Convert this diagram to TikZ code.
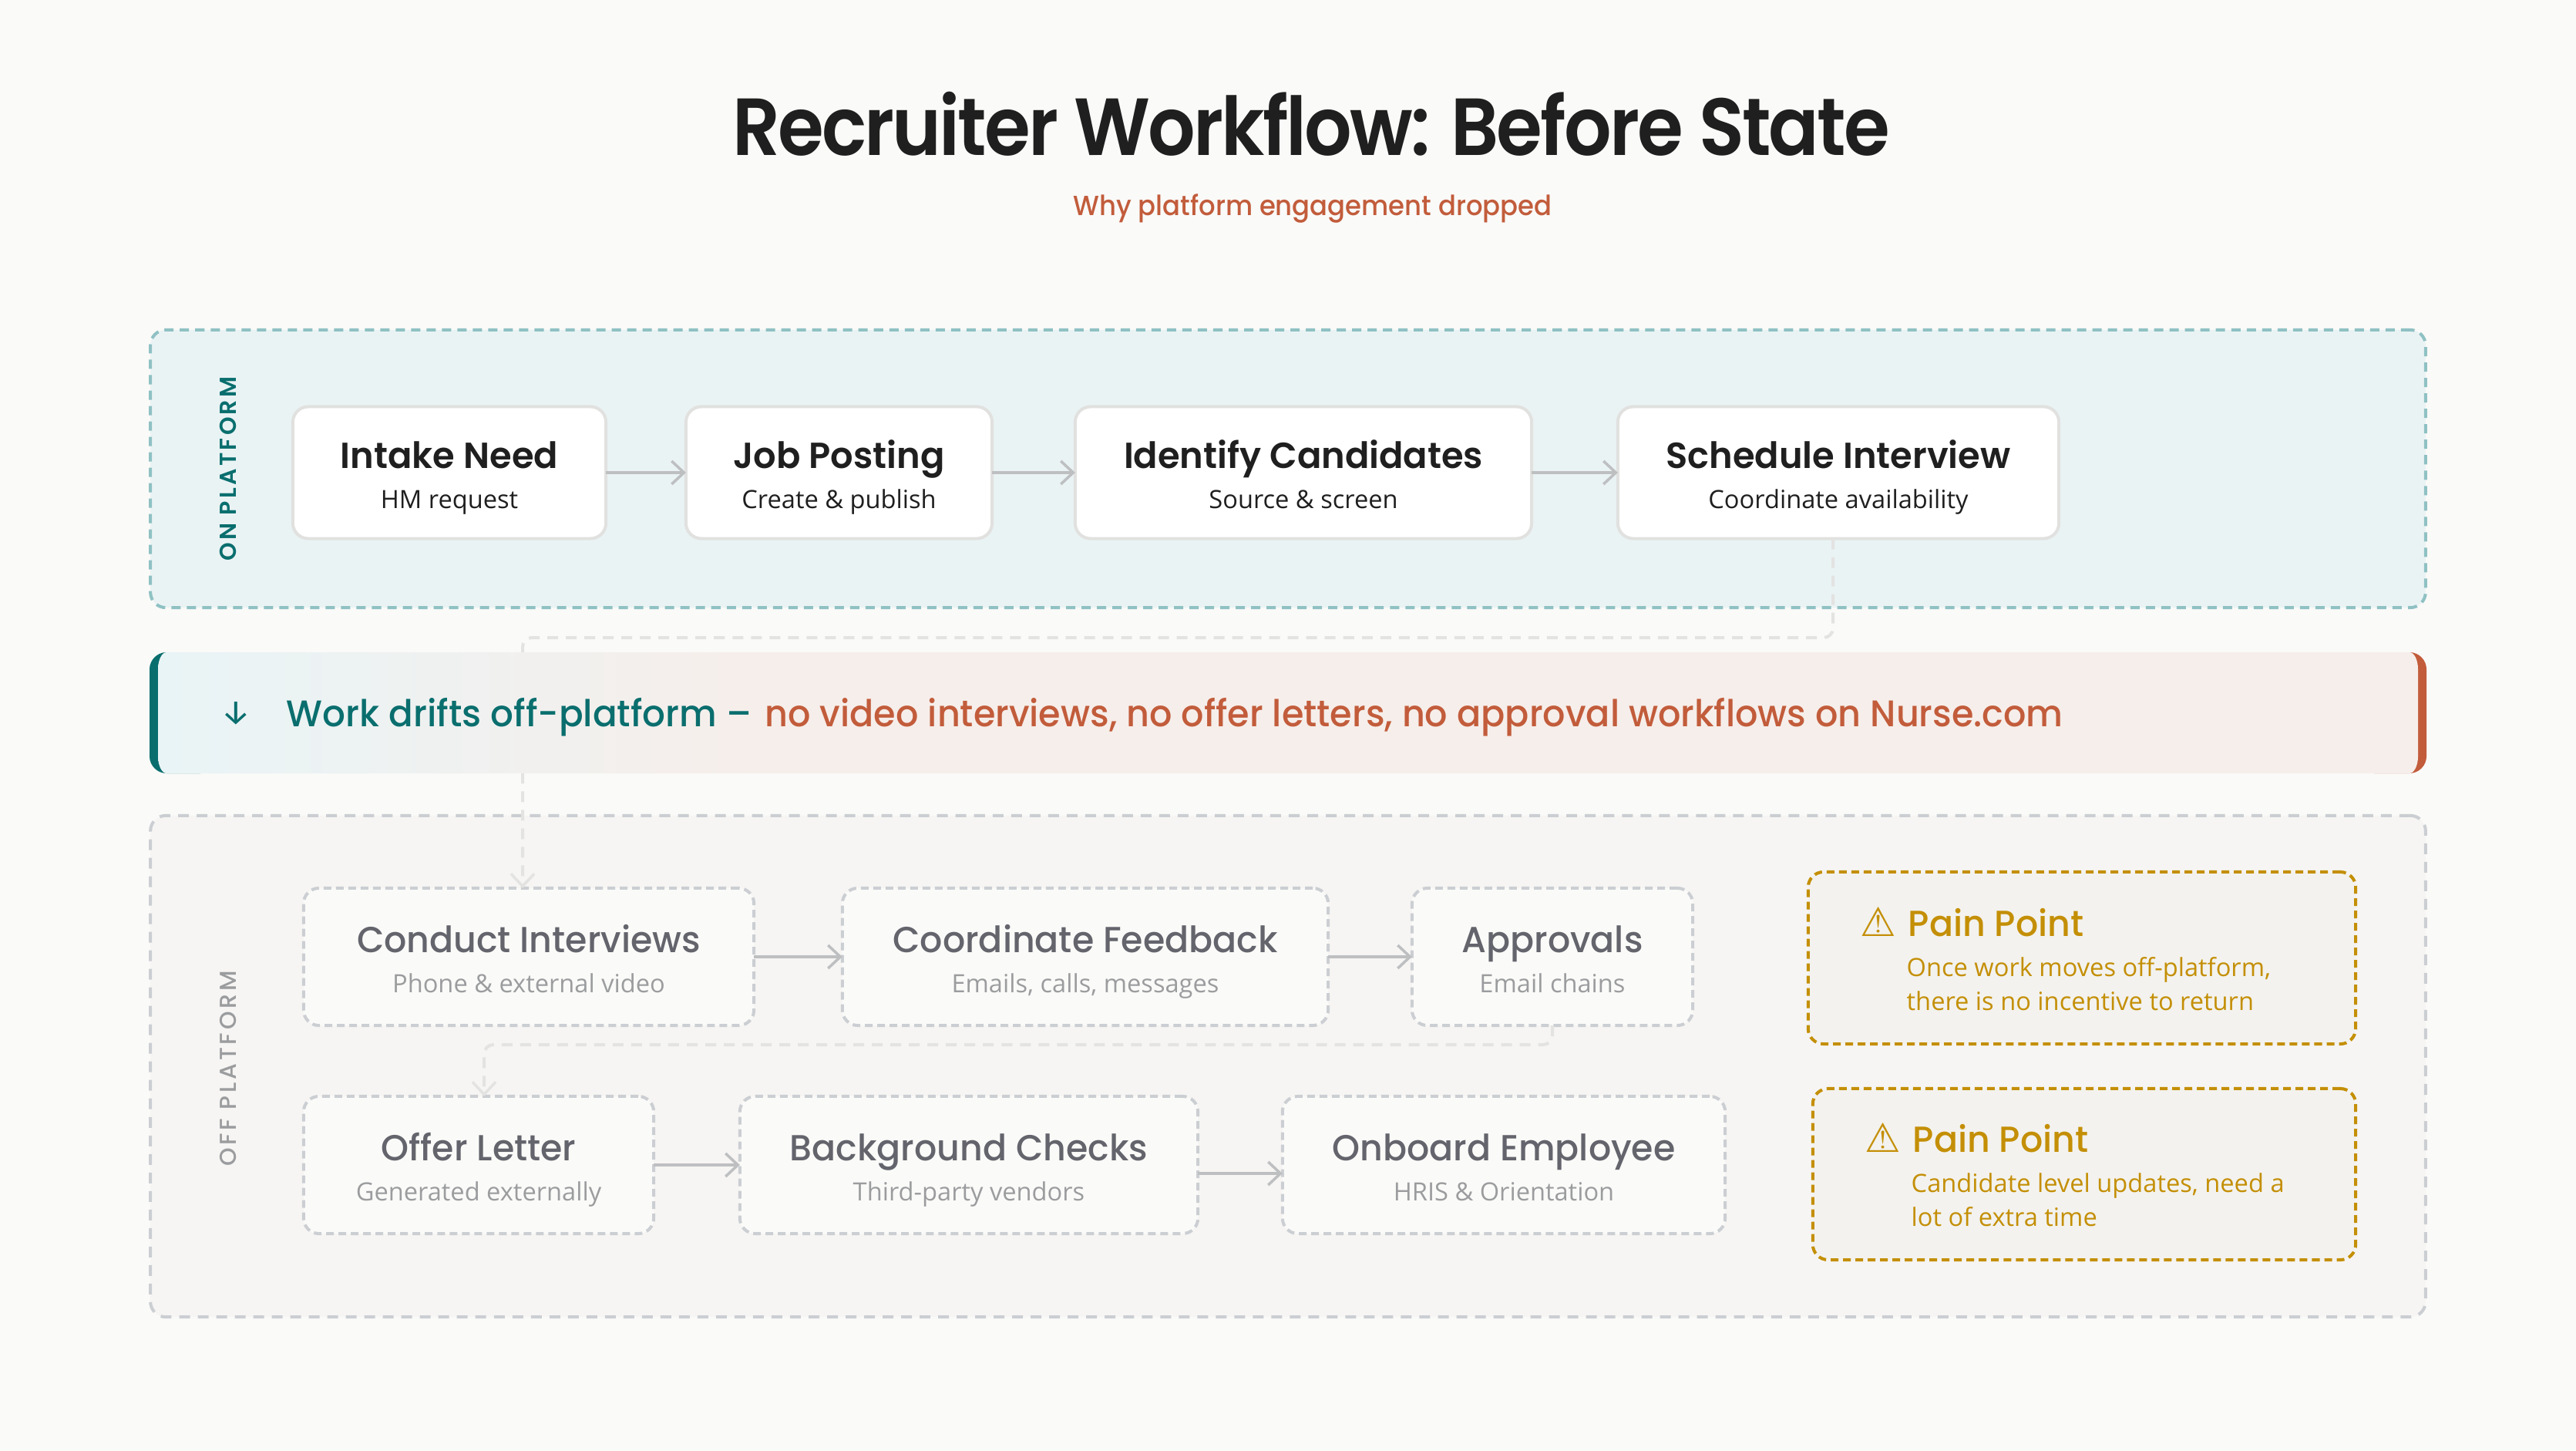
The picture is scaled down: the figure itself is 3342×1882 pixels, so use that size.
\documentclass[tikz,border=0pt]{standalone}
\usepackage{fontspec}
\usetikzlibrary{calc,arrows.meta}
\setmainfont{Open Sans}
\newfontfamily\titlefont[FakeStretch=0.92,LetterSpace=-2.7]{Poppins SemiBold}
\newfontfamily\hdfont[FakeStretch=0.985]{Poppins SemiBold}
\newfontfamily\medfont[FakeStretch=0.975]{Poppins Medium}
\newfontfamily\subfont[FakeStretch=0.94]{Poppins Medium}
\newfontfamily\banfont[FakeStretch=0.96]{Poppins Medium}
\newfontfamily\capfont[LetterSpace=11]{Poppins SemiBold}
\newfontfamily\capofffont[LetterSpace=12.5]{Poppins Medium}
\newfontfamily\symfont{DejaVu Sans Bold}
\newfontfamily\arrowfont{Fira Sans}
\newcommand\px[1]{\fontsize{\fpeval{#1*0.28453}}{\fpeval{#1*0.28453*1.2}}\selectfont}
\definecolor{bgc}{HTML}{FAFAF8}
\definecolor{ink}{HTML}{1F1F1F}
\definecolor{tealc}{HTML}{0A6E6E}
\definecolor{coral}{HTML}{C25C3B}
\definecolor{onfill}{HTML}{EAF3F4}
\definecolor{ondash}{HTML}{8FC1C3}
\definecolor{offfill}{HTML}{F6F5F3}
\definecolor{offdash}{HTML}{CBCED2}
\definecolor{offhead}{HTML}{63646C}
\definecolor{offsub}{HTML}{9B9C9E}
\definecolor{onbord}{HTML}{E1E1E0}
\definecolor{arrowc}{HTML}{BDBFC1}
\definecolor{driftc}{HTML}{E3E3E1}
\definecolor{gold}{HTML}{C48F06}
\definecolor{painfill}{HTML}{F3F2EE}
\definecolor{banL}{HTML}{E9F4F6}
\definecolor{banR}{HTML}{F6EEEA}
\pgfdeclarehorizontalshading{bannershade}{100bp}{color(0bp)=(banL); color(25bp)=(banL); color(38.5bp)=(banR); color(100bp)=(banR)}
\tikzset{
  panelon/.style={draw=ondash,fill=onfill,line width=0.04cm,dash pattern=on 0.12cm off 0.08cm,rounded corners=0.2cm,inner sep=0,outer sep=0},
  paneloff/.style={draw=offdash,fill=offfill,line width=0.04cm,dash pattern=on 0.14cm off 0.10cm,rounded corners=0.2cm,inner sep=0,outer sep=0},
  boxon/.style={draw=onbord,fill=white,line width=0.04cm,rounded corners=0.2cm,inner sep=0,outer sep=0},
  boxoff/.style={draw=offdash,fill=bgc,line width=0.04cm,dash pattern=on 0.10cm off 0.06cm,rounded corners=0.2cm,inner sep=0,outer sep=0},
  boxpain/.style={draw=gold,fill=painfill,line width=0.04cm,dash pattern=on 0.10cm off 0.06cm,rounded corners=0.2cm,inner sep=0,outer sep=0},
  flow/.style={draw=arrowc,line width=0.04cm,-{Straight Barb[length=0.16cm,width=0.3cm,line width=0.035cm]}},
  drift/.style={draw=driftc,line width=0.04cm,dash pattern=on 0.14cm off 0.10cm,rounded corners=0.12cm,-{Straight Barb[length=0.16cm,width=0.3cm,line width=0.035cm]}},
  hon/.style={anchor=base,inner sep=0,text=ink,font=\hdfont\px{47}},
  son/.style={anchor=base,inner sep=0,text=ink,font=\px{32.6}},
  hoff/.style={anchor=base,inner sep=0,text=offhead,font=\medfont\px{47}},
  soff/.style={anchor=base,inner sep=0,text=offsub,font=\px{32.6}},
  painh/.style={anchor=base west,inner sep=0,text=gold,font=\medfont\px{47}},
  pains/.style={anchor=base west,inner sep=0,text=gold,font=\px{32.6}},
  warn/.style={anchor=base west,inner sep=0,text=gold,font=\symfont\px{52}},
}
\begin{document}
\begin{tikzpicture}[x=0.01cm,y=-0.01cm]
\fill[bgc] (0,0) rectangle (3342,1882);
\useasboundingbox (0,0) rectangle (3342,1882);
% title
\node[anchor=base,inner sep=0,text=ink,font=\titlefont\px{105}] (title) at (1701,202) {Recruiter Workflow: Before State};
\node[anchor=base,inner sep=0,text=coral,font=\subfont\px{36}] (subtitle) at (1703,280) {Why platform engagement dropped};
% panels
\node[panelon,minimum width=29.50cm,minimum height=3.60cm] (onpanel) at (1671,608) {};
\node[paneloff,minimum width=29.50cm,minimum height=6.50cm] (offpanel) at (1671,1383) {};
\node[rotate=90,anchor=center,inner sep=0,text=tealc,font=\capfont\px{30}] (onlabel) at (296,608) {ON PLATFORM};
\node[rotate=90,anchor=center,inner sep=0,text=offsub,font=\capofffont\px{30}] (offlabel) at (296,1386) {OFF PLATFORM};
% on-platform steps
\node[boxon,minimum width=4.06cm,minimum height=1.71cm] (intake) at (583,613) {};
\node[hon] (intakeh) at (583,607) {Intake Need};
\node[son] (intakes) at (583,659) {HM request};
\node[boxon,minimum width=3.97cm,minimum height=1.71cm] (job) at (1088.5,613) {};
\node[hon] (jobh) at (1088.5,607) {Job Posting};
\node[son] (jobs) at (1088.5,659) {Create \& publish};
\node[boxon,minimum width=5.92cm,minimum height=1.71cm] (identify) at (1691,613) {};
\node[hon] (identifyh) at (1691,607) {Identify Candidates};
\node[son] (identifys) at (1691,659) {Source \& screen};
\node[boxon,minimum width=5.72cm,minimum height=1.71cm] (sched) at (2385,613) {};
\node[hon] (schedh) at (2385,607) {Schedule Interview};
\node[son] (scheds) at (2385,659) {Coordinate availability};
% off-platform steps
\node[boxoff,minimum width=5.84cm,minimum height=1.78cm] (conduct) at (686,1241) {};
\node[hoff] (conducth) at (686,1235) {Conduct Interviews};
\node[soff] (conducts) at (686,1287) {Phone \& external video};
\node[boxoff,minimum width=6.30cm,minimum height=1.78cm] (coord) at (1408,1241) {};
\node[hoff] (coordh) at (1408,1235) {Coordinate Feedback};
\node[soff] (coords) at (1408,1287) {Emails, calls, messages};
\node[boxoff,minimum width=3.64cm,minimum height=1.78cm] (appr) at (2014,1241) {};
\node[hoff] (apprh) at (2014,1235) {Approvals};
\node[soff] (apprs) at (2014,1287) {Email chains};
\node[boxoff,minimum width=4.54cm,minimum height=1.78cm] (offer) at (621,1511) {};
\node[hoff] (offerh) at (621,1505) {Offer Letter};
\node[soff] (offers) at (621,1557) {Generated externally};
\node[boxoff,minimum width=5.94cm,minimum height=1.78cm] (bg) at (1257,1511) {};
\node[hoff] (bgh) at (1257,1505) {Background Checks};
\node[soff] (bgs) at (1257,1557) {Third-party vendors};
\node[boxoff,minimum width=5.74cm,minimum height=1.78cm] (onb) at (1951,1511) {};
\node[hoff] (onbh) at (1951,1505) {Onboard Employee};
\node[soff] (onbs) at (1951,1557) {HRIS \& Orientation};
% pain points
\node[boxpain,minimum width=7.10cm,minimum height=2.23cm] (pain1) at (2701,1242.5) {};
\node[boxpain,minimum width=7.04cm,minimum height=2.22cm] (pain2) at (2704,1523) {};
\node[warn] (warn1) at (2413,1214) {⚠};
\node[painh] (pain1h) at (2475,1214) {Pain Point};
\node[pains] (pain1a) at (2473,1266) {Once work moves off-platform,};
\node[pains] (pain1b) at (2473,1310) {there is no incentive to return};
\node[warn] (warn2) at (2419,1494) {⚠};
\node[painh] (pain2h) at (2481,1494) {Pain Point};
\node[pains] (pain2a) at (2479,1546) {Candidate level updates, need a};
\node[pains] (pain2b) at (2479,1590) {lot of extra time};
% flow arrows
\draw[flow] (intake.east) -- (job.west);
\draw[flow] (job.east) -- (identify.west);
\draw[flow] (identify.east) -- (sched.west);
\draw[flow] (conduct.east) -- (coord.west);
\draw[flow] (coord.east) -- (appr.west);
\draw[flow] (offer.east) -- (bg.west);
\draw[flow] ($(bg.east)+(0,11)$) -- ($(onb.west)+(0,11)$);
% drift connectors
\coordinate (d1) at (2378,827);
\coordinate (d2) at (678,827);
\coordinate (d3) at (2014,1355);
\coordinate (d4) at (628,1355);
\draw[drift] (d1 |- sched.south) -- (d1) -- (d2) -- (d2 |- conduct.north);
\draw[drift] (d3 |- appr.south) -- (d3) -- (d4) -- (d4 |- offer.north);
% banner
\fill[tealc] (260,846) -- (216,846) .. controls (204,846) and (194,856) .. (194,868) -- (194,981) .. controls (194,993) and (204,1003) .. (216,1003) -- (260,1003) -- cycle;
\fill[coral] (3080,846) -- (3126,846) .. controls (3138,846) and (3148,856) .. (3148,868) -- (3148,981) .. controls (3148,993) and (3138,1003) .. (3126,1003) -- (3080,1003) -- cycle;
\path[shading=bannershade] (216,846) .. controls (210,846) and (205,856) .. (205,868) -- (205,981) .. controls (205,993) and (210,1003) .. (216,1003) -- (3126,1003) .. controls (3132,1003) and (3137,993) .. (3137,981) -- (3137,868) .. controls (3137,856) and (3132,846) .. (3126,846) -- cycle;
\node[anchor=center,inner sep=0,text=tealc,font=\arrowfont\px{44}] (barrow) at (306,925) {↓};
\node[anchor=base west,inner sep=0,text=tealc,font=\medfont\px{48}] (bannerL) at (371,942) {Work drifts off-platform –};
\node[anchor=base west,inner sep=0,text=coral,font=\banfont\px{48}] (bannerR) at (992,942) {no video interviews, no offer letters, no approval workflows on Nurse.com};
\end{tikzpicture}
\end{document}
